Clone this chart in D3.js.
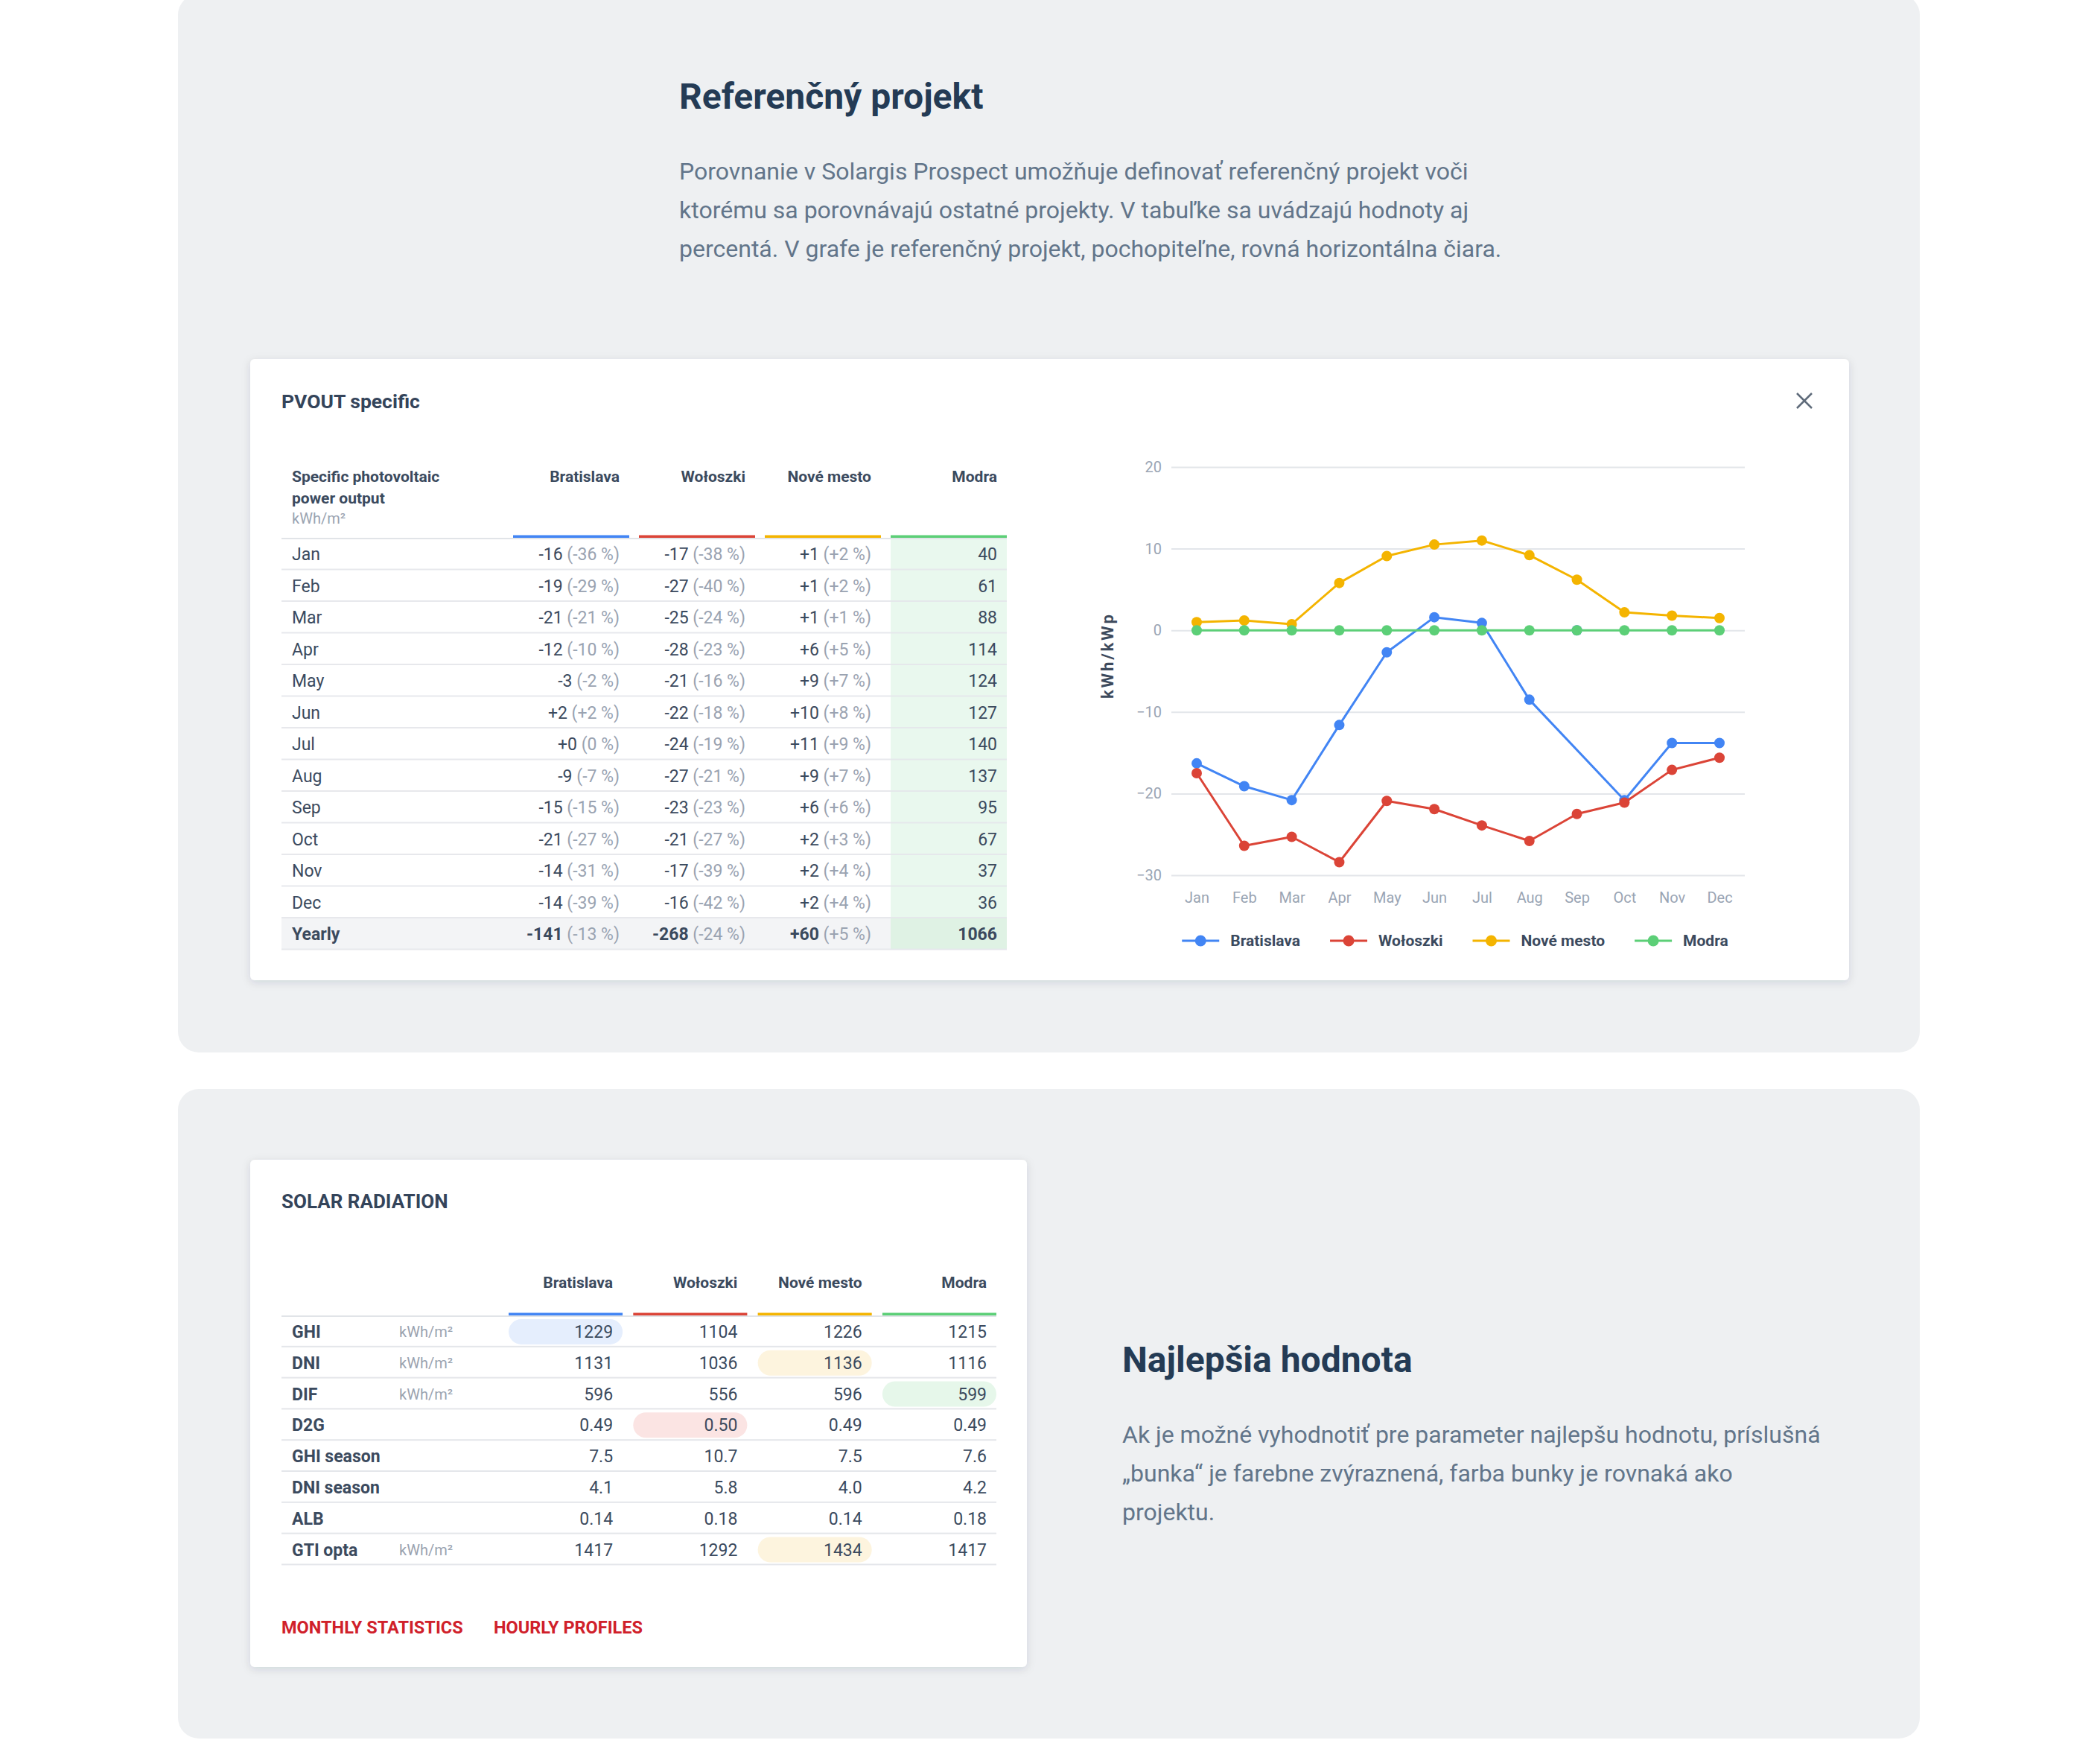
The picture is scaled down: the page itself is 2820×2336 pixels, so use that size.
<!DOCTYPE html>
<html><head><meta charset="utf-8">
<script src="https://cdn.jsdelivr.net/npm/d3@7"></script>
<style>
body{margin:0;background:#fff}
svg{display:block;font-family:Roboto,'Noto Sans',sans-serif}
</style>
</head><body>
<svg id="c" width="2820" height="2336"></svg>
<script>
// ---------------- DATA ----------------
const months = ["Jan","Feb","Mar","Apr","May","Jun","Jul","Aug","Sep","Oct","Nov","Dec"];
const sites = ["Bratislava","Wołoszki","Nové mesto","Modra"];
const siteColors = ["#4285f4","#db4437","#f4b400","#5ccf77"];

// table: difference vs reference (Modra) and percentage
const bratDiff = [-16,-19,-21,-12,-3,2,0,-9,-15,-21,-14,-14];
const bratPct  = [-36,-29,-21,-10,-2,2,0,-7,-15,-27,-31,-39];
const wolDiff  = [-17,-27,-25,-28,-21,-22,-24,-27,-23,-21,-17,-16];
const wolPct   = [-38,-40,-24,-23,-16,-18,-19,-21,-23,-27,-39,-42];
const noveDiff = [1,1,1,6,9,10,11,9,6,2,2,2];
const novePct  = [2,2,1,5,7,8,9,7,6,3,4,4];
const modraVal = [40,61,88,114,124,127,140,137,95,67,37,36];
const yearlyDiff = [-141,-268,60];
const yearlyPct  = [-13,-24,5];
const yearlyModra = 1066;

// chart series (kWh/kWp difference vs reference)
const chartBrat = [-16.3,-19.1,-20.8,-11.6,-2.7,1.6,0.9,-8.5,null,-20.8,-13.8,-13.8];
const chartWol  = [-17.5,-26.4,-25.3,-28.4,-20.9,-21.9,-23.9,-25.8,-22.5,-21.1,-17.1,-15.6];
const chartNove = [1.0,1.2,0.75,5.8,9.1,10.5,11.0,9.2,6.2,2.2,1.8,1.5];
const chartModra = [0,0,0,0,0,0,0,0,0,0,0,0];
const yTicks = [-30,-20,-10,0,10,20];

// solar radiation table
const srParams = ["GHI","DNI","DIF","D2G","GHI season","DNI season","ALB","GTI opta"];
const srUnits  = ["kWh/m²","kWh/m²","kWh/m²","","","","","kWh/m²"];
const srDecimals = [0,0,0,2,1,1,2,0];
const srBrat  = [1229,1131,596,0.49,7.5,4.1,0.14,1417];
const srWol   = [1104,1036,556,0.50,10.7,5.8,0.18,1292];
const srNove  = [1226,1136,596,0.49,7.5,4.0,0.14,1434];
const srModra = [1215,1116,599,0.49,7.6,4.2,0.18,1417];
const srBest  = [0,2,3,1,null,null,null,2];
const bestFill = ["#e5eefd","#fbe4e3","#fdf4de","#e6f7ea"];

const para1 = ["Porovnanie v Solargis Prospect umožňuje definovať referenčný projekt voči",
  "ktorému sa porovnávajú ostatné projekty. V tabuľke sa uvádzajú hodnoty aj",
  "percentá. V grafe je referenčný projekt, pochopiteľne, rovná horizontálna čiara."];
const para2 = ["Ak je možné vyhodnotiť pre parameter najlepšu hodnotu, príslušná",
  "„bunka“ je farebne zvýraznená, farba bunky je rovnaká ako",
  "projektu."];

// ---------------- DRAW ----------------
const svg = d3.select("#c");
const defs = svg.append("defs");
const f = defs.append("filter").attr("id","sh").attr("x","-5%").attr("y","-5%").attr("width","110%").attr("height","115%");
f.append("feDropShadow").attr("dx",0).attr("dy",3).attr("stdDeviation",6).attr("flood-color","#1f2d3d").attr("flood-opacity",0.13);

const DARK = "#3b4a5e", GRAY = "#9aa3b1", HEAD = "#243b55", PARA = "#62758a";

// panels
svg.append("rect").attr("x",239).attr("y",-8).attr("width",2339).attr("height",1421).attr("rx",28).attr("fill","#eef0f2");
svg.append("rect").attr("x",239).attr("y",1462).attr("width",2339).attr("height",872).attr("rx",28).attr("fill","#eef0f2");

// header text
svg.append("text").attr("x",912).attr("y",129).attr("dy","0.35em").attr("font-size",48).attr("font-weight",700)
  .attr("fill",HEAD).text("Referenčný projekt");
svg.append("g").selectAll("text").data(para1).join("text")
  .attr("x",912).attr("y",(d,i)=>230+i*52).attr("dy","0.35em").attr("font-size",32).attr("fill",PARA).text(d=>d);

// ---- card 1
svg.append("rect").attr("x",336).attr("y",482).attr("width",2147).attr("height",834).attr("rx",6)
  .attr("fill","#fff").attr("filter","url(#sh)");
svg.append("text").attr("x",378).attr("y",539).attr("dy","0.35em").attr("font-size",26.5).attr("font-weight",700)
  .attr("fill","#34445a").text("PVOUT specific");
// close icon
svg.append("path").attr("d","M2413,528L2433,548M2433,528L2413,548").attr("stroke","#5f6b7a").attr("stroke-width",2.5).attr("fill","none");

// table 1
const col1 = d3.scaleBand().domain(sites).range([689,1352]).paddingInner(0.077);
const bw1 = col1.bandwidth();
const rowH1 = 42.5, top1 = 722;
const t1 = svg.append("g").attr("font-size",23);
// header
t1.append("text").attr("x",392).attr("y",640).attr("dy","0.35em").attr("font-size",21).attr("font-weight",700).attr("fill",DARK).text("Specific photovoltaic");
t1.append("text").attr("x",392).attr("y",669).attr("dy","0.35em").attr("font-size",21).attr("font-weight",700).attr("fill",DARK).text("power output");
t1.append("text").attr("x",392).attr("y",696).attr("dy","0.35em").attr("font-size",20).attr("fill",GRAY).text("kWh/m²");
t1.selectAll(".ch").data(sites).join("text").attr("class","ch")
  .attr("x",d=>col1(d)+bw1-13).attr("y",640).attr("dy","0.35em").attr("text-anchor","end")
  .attr("font-size",21).attr("font-weight",700).attr("fill",DARK).text(d=>d);
// backgrounds
t1.append("rect").attr("x",378).attr("y",top1+12*rowH1).attr("width",1352-378).attr("height",rowH1).attr("fill","#f3f4f6");
t1.append("rect").attr("x",col1("Modra")).attr("y",top1).attr("width",bw1).attr("height",12*rowH1).attr("fill","#e9f8ee");
t1.append("rect").attr("x",col1("Modra")).attr("y",top1+12*rowH1).attr("width",bw1).attr("height",rowH1).attr("fill","#dff2e4");
// lines
t1.append("rect").attr("x",378).attr("y",top1).attr("width",1352-378).attr("height",2).attr("fill","#e1e4e8");
t1.selectAll(".bar").data(sites).join("rect").attr("class","bar")
  .attr("x",d=>col1(d)).attr("y",top1-3.5).attr("width",bw1).attr("height",3.5).attr("fill",(d,i)=>siteColors[i]);
t1.selectAll(".sep").data(d3.range(13)).join("rect").attr("class","sep")
  .attr("x",378).attr("y",i=>top1+(i+1)*rowH1-1).attr("width",1352-378).attr("height",2).attr("fill","#e4e6ea").attr("opacity",0.9);

const fmtDiff = v => v>=0 ? "+"+v : ""+v;
const fmtPct = v => v>0 ? "(+"+v+" %)" : v<0 ? "("+v+" %)" : "(0 %)";
const rows1 = months.map((m,i)=>({label:m, bold:false, vals:[[bratDiff[i],bratPct[i]],[wolDiff[i],wolPct[i]],[noveDiff[i],novePct[i]]], ref:modraVal[i]}));
rows1.push({label:"Yearly", bold:true, vals:yearlyDiff.map((d,i)=>[d,yearlyPct[i]]), ref:yearlyModra});
rows1.forEach((r,ri)=>{
  const cy = top1 + ri*rowH1 + rowH1/2 + 1;
  t1.append("text").attr("x",392).attr("y",cy).attr("dy","0.35em").attr("fill",DARK)
    .attr("font-weight",r.bold?700:400).text(r.label);
  r.vals.forEach((v,j)=>{
    const t = t1.append("text").attr("x",col1(sites[j])+bw1-13).attr("y",cy).attr("dy","0.35em").attr("text-anchor","end");
    t.append("tspan").attr("fill",DARK).attr("font-weight",r.bold?700:400).text(fmtDiff(v[0]));
    t.append("tspan").attr("fill",GRAY).text(" "+fmtPct(v[1]));
  });
  t1.append("text").attr("x",col1("Modra")+bw1-13).attr("y",cy).attr("dy","0.35em").attr("text-anchor","end")
    .attr("fill",DARK).attr("font-weight",r.bold?700:400).text(r.ref);
});

// ---- chart
const x = d3.scalePoint().domain(months).range([1607,2309]);
const y = d3.scaleLinear().domain([-30,20]).range([1175,627]);
const ch = svg.append("g");
const gy = ch.append("g").attr("transform","translate(1573,0)")
  .call(d3.axisLeft(y).tickValues(yTicks).tickSize(-(2343-1573)).tickPadding(13));
gy.select(".domain").remove();
gy.selectAll("line").attr("stroke","#e3e6ea").attr("stroke-width",2);
gy.selectAll("text").attr("font-size",20).attr("fill","#9aa5b4").attr("font-family","Roboto");
const gx = ch.append("g").attr("transform","translate(0,1175)").call(d3.axisBottom(x).tickSize(0));
gx.select(".domain").remove();
gx.selectAll("text").attr("y",30).attr("dy","0.35em").attr("font-size",20).attr("fill","#9aa5b4").attr("font-family","Roboto");
ch.append("text").attr("transform","translate(1487,880) rotate(-90)").attr("dy","0.35em").attr("text-anchor","middle")
  .attr("font-size",22).attr("font-weight",700).attr("letter-spacing",3).attr("fill","#3d4a5c").text("kWh/kWp");

const series = [chartBrat,chartWol,chartNove,chartModra];
const line = d3.line().x(d=>x(d.m)).y(d=>y(d.v));
series.forEach((s,si)=>{
  const pts = s.map((v,i)=>({m:months[i], v}));
  ch.append("path").datum(pts.filter(p=>p.v!==null)).attr("d",line)
    .attr("fill","none").attr("stroke",siteColors[si]).attr("stroke-width",3).attr("stroke-linejoin","round");
  ch.append("g").selectAll("circle").data(pts).join("circle")
    .attr("cx",d=>x(d.m)).attr("cy",d=>y(d.v===null?0:d.v)).attr("r",7).attr("fill",siteColors[si]);
});
// legend
const lg = ch.append("g");
let lx = 0;
const GAP = 40;
sites.forEach((s,i)=>{
  const g = lg.append("g").attr("transform",`translate(${lx},1263)`);
  g.append("line").attr("x1",0).attr("x2",50).attr("stroke",siteColors[i]).attr("stroke-width",3);
  g.append("circle").attr("cx",25).attr("r",7.5).attr("fill",siteColors[i]);
  const t = g.append("text").attr("x",65).attr("dy","0.35em").attr("font-size",21).attr("font-weight",700).attr("fill",DARK).text(s);
  lx += 65 + t.node().getComputedTextLength() + GAP;
});
const totalW = lx - GAP;
lg.attr("transform",`translate(${(1573+2343)/2 - totalW/2 - 4},0)`);

// ---- card 2
svg.append("rect").attr("x",336).attr("y",1557).attr("width",1043).attr("height",681).attr("rx",6)
  .attr("fill","#fff").attr("filter","url(#sh)");
svg.append("text").attr("x",378).attr("y",1613).attr("dy","0.35em").attr("font-size",26).attr("font-weight",700)
  .attr("fill","#34445a").text("SOLAR RADIATION");
const col2 = d3.scaleBand().domain(sites).range([683,1338]).paddingInner(0.085);
const bw2 = col2.bandwidth();
const rowH2 = 41.8, top2 = 1766;
const t2 = svg.append("g").attr("font-size",23);
t2.selectAll(".ch").data(sites).join("text").attr("class","ch")
  .attr("x",d=>col2(d)+bw2-13).attr("y",1722).attr("dy","0.35em").attr("text-anchor","end")
  .attr("font-size",21).attr("font-weight",700).attr("fill",DARK).text(d=>d);
t2.append("rect").attr("x",378).attr("y",top2).attr("width",1338-378).attr("height",2).attr("fill","#e1e4e8");
t2.selectAll(".bar").data(sites).join("rect").attr("class","bar")
  .attr("x",d=>col2(d)).attr("y",top2-3.5).attr("width",bw2).attr("height",3.5).attr("fill",(d,i)=>siteColors[i]);
t2.selectAll(".sep").data(srParams).join("rect").attr("class","sep")
  .attr("x",378).attr("y",(d,i)=>top2+(i+1)*rowH2-1).attr("width",1338-378).attr("height",2).attr("fill","#e4e6ea");
const srCols = [srBrat,srWol,srNove,srModra];
srParams.forEach((p,ri)=>{
  const cy = top2 + ri*rowH2 + rowH2/2 + 1;
  if (srBest[ri]!==null){
    const b = srBest[ri];
    t2.append("rect").attr("x",col2(sites[b])).attr("y",cy-17).attr("width",bw2).attr("height",34).attr("rx",17).attr("fill",bestFill[b]);
  }
  t2.append("text").attr("x",392).attr("y",cy).attr("dy","0.35em").attr("font-weight",700).attr("fill",DARK).text(p);
  if (srUnits[ri]) t2.append("text").attr("x",536).attr("y",cy).attr("dy","0.35em").attr("font-size",20).attr("fill",GRAY).text(srUnits[ri]);
  srCols.forEach((c,j)=>{
    t2.append("text").attr("x",col2(sites[j])+bw2-13).attr("y",cy).attr("dy","0.35em").attr("text-anchor","end")
      .attr("fill",DARK).text(d3.format("."+srDecimals[ri]+"f")(c[ri]));
  });
});
svg.append("text").attr("x",378).attr("y",2185).attr("dy","0.35em").attr("font-size",23.5).attr("font-weight",700).attr("fill","#d0202a").text("MONTHLY STATISTICS");
svg.append("text").attr("x",663).attr("y",2185).attr("dy","0.35em").attr("font-size",23.5).attr("font-weight",700).attr("fill","#d0202a").text("HOURLY PROFILES");

// bottom right text
svg.append("text").attr("x",1507).attr("y",1825).attr("dy","0.35em").attr("font-size",48).attr("font-weight",700)
  .attr("fill",HEAD).text("Najlepšia hodnota");
svg.append("g").selectAll("text").data(para2).join("text")
  .attr("x",1507).attr("y",(d,i)=>1926+i*52).attr("dy","0.35em").attr("font-size",32).attr("fill",PARA).text(d=>d);
</script>
</body></html>
